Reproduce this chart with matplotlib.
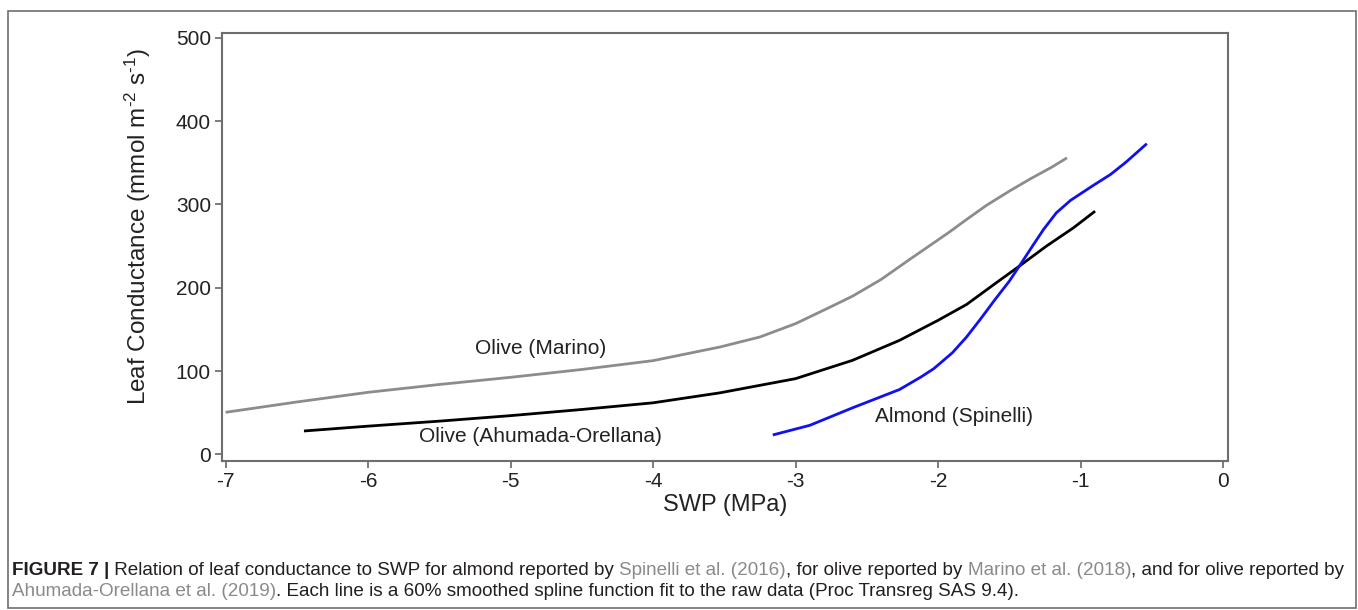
import matplotlib
matplotlib.use("Agg")
import matplotlib.pyplot as plt
from matplotlib.patches import Rectangle

# values (SWP in MPa, conductance in mmol m-2 s-1)
marino_swp = [-7.0, -6.5, -6.0, -5.5, -5.0, -4.5, -4.0, -3.53, -3.25, -3.0,
              -2.78, -2.6, -2.4, -2.2, -2.03, -1.92, -1.8, -1.66, -1.5, -1.35,
              -1.2, -1.095]
marino_gs = [50.6, 63, 74.6, 84, 92.6, 102, 112.6, 129, 141, 157,
             175, 190, 210, 234, 254, 267, 282, 299, 316, 331,
             345, 356]

ahumada_swp = [-6.45, -6.0, -5.5, -5.0, -4.5, -4.0, -3.53, -3.0, -2.6, -2.27,
               -2.0, -1.8, -1.6, -1.43, -1.24, -1.05, -0.898]
ahumada_gs = [28.2, 34, 40, 46.6, 54, 62, 74, 91, 113, 137,
              161, 180, 205, 226, 250, 272, 292]

spinelli_swp = [-3.16, -2.9, -2.6, -2.27, -2.12, -2.03, -1.9, -1.8, -1.7, -1.6,
                -1.5, -1.43, -1.33, -1.26, -1.17, -1.07, -0.91, -0.79, -0.68, -0.535]
spinelli_gs = [23.4, 35, 56, 78, 93, 103, 122, 141, 163, 186,
               208, 226, 252, 270, 290, 305, 323, 336, 351, 373]

x_ticks = [-7, -6, -5, -4, -3, -2, -1, 0]
y_ticks = [0, 100, 200, 300, 400, 500]

font = ["Liberation Sans", "DejaVu Sans"]
cap_font = ["Liberation Sans Narrow", "Liberation Sans", "DejaVu Sans"]
plt.rcParams["font.family"] = font
plt.rcParams["mathtext.fontset"] = "custom"
plt.rcParams["mathtext.rm"] = "Liberation Sans"
plt.rcParams["mathtext.it"] = "Liberation Sans:italic"
plt.rcParams["mathtext.bf"] = "Liberation Sans:bold"

fig = plt.figure(figsize=(13.58, 6.10), dpi=100)
ax = fig.add_axes([0.1635, 0.2443, 0.9043 - 0.1635, 0.9459 - 0.2443])

ax.plot(marino_swp, marino_gs, color="#8c8c8c", lw=2.0, solid_capstyle="butt")
ax.plot(ahumada_swp, ahumada_gs, color="black", lw=2.0, solid_capstyle="butt")
ax.plot(spinelli_swp, spinelli_gs, color="#1010f0", lw=2.0, solid_capstyle="butt")

ax.text(-4.79, 127, "Olive (Marino)", fontsize=15, ha="center", va="center", color="#222222")
ax.text(-4.79, 21, "Olive (Ahumada-Orellana)", fontsize=15, ha="center", va="center", color="#222222")
ax.text(-1.89, 45, "Almond (Spinelli)", fontsize=15, ha="center", va="center", color="#222222")

ax.set_xlim(-7.025, 0.035)
ax.set_ylim(-7.8, 505.8)
ax.set_xticks(x_ticks)
ax.set_yticks(y_ticks)
ax.set_xticklabels([str(v) for v in x_ticks])
ax.tick_params(axis="both", labelsize=15, length=5, width=1.2, color="#666666",
               labelcolor="#222222", pad=3)
for s in ax.spines.values():
    s.set_color("#6e6e6e")
    s.set_linewidth(1.5)

ax.set_xlabel("SWP (MPa)", fontsize=17, color="#222222", labelpad=2)
ax.set_ylabel(r"Leaf Conductance (mmol m$^{\text{-2}}$ s$^{\text{-1}}$)", fontsize=17.5,
              color="#222222")
ax.yaxis.set_label_coords(-0.069, 0.547)

# outer frame of the figure panel
fig.patches.append(Rectangle((8 / 1358, 2 / 610), 1348 / 1358, 597 / 610,
                             transform=fig.transFigure, fill=False,
                             edgecolor="#6e6e6e", lw=1.2))

# caption, pieces laid out one after the other
renderer = fig.canvas.get_renderer()
dark = "#231f20"
link = "#8a8a8a"
lines = [
    [("FIGURE 7 |", "bold", dark),
     (" Relation of leaf conductance to SWP for almond reported by ", "normal", dark),
     ("Spinelli et al. (2016)", "normal", link),
     (", for olive reported by ", "normal", dark),
     ("Marino et al. (2018)", "normal", link),
     (", and for olive reported by", "normal", dark)],
    [("Ahumada-Orellana et al. (2019)", "normal", link),
     (". Each line is a 60% smoothed spline function fit to the raw data (Proc Transreg SAS 9.4).", "normal", dark)],
]
baselines = [575, 596]


def draw_line(pieces, y_px, size):
    x = 12
    items = []
    for txt, weight, col in pieces:
        t = fig.text(x / 1358, 1 - y_px / 610, txt, fontsize=size, fontweight=weight,
                     color=col, family=cap_font, va="baseline", ha="left")
        w = t.get_window_extent(renderer).width
        x += w
        items.append(t)
    return x, items


# fit the first line to the width of the reference caption
end, items = draw_line(lines[0], baselines[0], 13)
for t in items:
    t.remove()
size = 13 * (1348 - 12) / (end - 12)
draw_line(lines[0], baselines[0], size)
draw_line(lines[1], baselines[1], size)

fig.savefig("out.png", dpi=100)
